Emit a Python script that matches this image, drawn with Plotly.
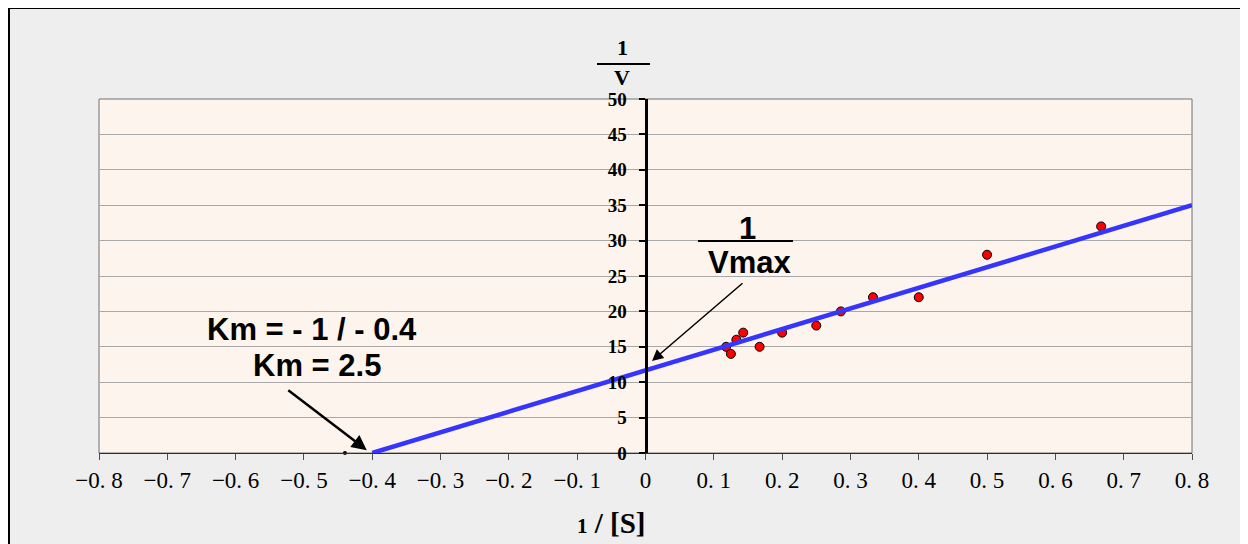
import plotly.graph_objects as go

# ---- data ----
inv_s = [0.118, 0.125, 0.133, 0.143, 0.167, 0.2, 0.25, 0.286, 0.333, 0.4, 0.5, 0.667]
inv_v = [15, 14, 16, 17, 15, 17, 18, 20, 22, 22, 28, 32]
fit_x = [-0.4, 0.8]
fit_y = [0, 35]
dot_x = [-0.44]
dot_y = [0]
x_ticks = [-0.8, -0.7, -0.6, -0.5, -0.4, -0.3, -0.2, -0.1, 0, 0.1, 0.2, 0.3, 0.4, 0.5, 0.6, 0.7, 0.8]
x_labels = ["−0. 8", "−0. 7", "−0. 6", "−0. 5", "−0. 4", "−0. 3", "−0. 2", "−0. 1", "0",
            "0. 1", "0. 2", "0. 3", "0. 4", "0. 5", "0. 6", "0. 7", "0. 8"]
y_ticks = [0, 5, 10, 15, 20, 25, 30, 35, 40, 45, 50]

# ---- layout helpers (page pixel -> paper); the page body adds an 8px offset ----
OFF = 8
W, H = 1248 - OFF, 544 - OFF
PL, PR, PT, PB = 99 - OFF, 1192 - OFF, 99 - OFF, 453 - OFF
def px(xp):
    return (xp - OFF - PL) / (PR - PL)
def py(yp):
    return (PB - (yp - OFF)) / (PB - PT)

fig = go.Figure()
fig.add_trace(go.Scatter(x=inv_s, y=inv_v, mode="markers",
                         marker=dict(color="#ff0000", size=9, line=dict(color="black", width=1)),
                         showlegend=False))
fig.add_trace(go.Scatter(x=fit_x, y=fit_y, mode="lines",
                         line=dict(color="#3535ff", width=4.5), showlegend=False))
fig.add_trace(go.Scatter(x=dot_x, y=dot_y, mode="markers",
                         marker=dict(color="black", size=4), showlegend=False, cliponaxis=False))

fig.update_layout(
    width=W, height=H,
    margin=dict(l=PL, r=W - PR, t=PT, b=H - PB),
    paper_bgcolor="#eeeeee",
    plot_bgcolor="#fdf5ed",
    xaxis=dict(range=[-0.8, 0.8], tickvals=x_ticks, ticktext=x_labels,
               showgrid=False, zeroline=False, showline=True, linecolor="#303030", linewidth=1,
               ticks="outside", ticklen=6, tickcolor="#505050", tickwidth=1,
               tickfont=dict(family="Liberation Serif", size=23, color="black")),
    yaxis=dict(range=[0, 50], tickvals=y_ticks, anchor="free", position=0.5,
               showgrid=True, gridcolor="#a8a8a8", gridwidth=1, zeroline=False,
               showline=True, linecolor="black", linewidth=3,
               ticks="outside", ticklen=6, tickcolor="black", tickwidth=2,
               ticklabelstandoff=8,
               tickfont=dict(family="Liberation Serif", size=19, color="black", weight="bold")),
)

shapes = [
    # frame lines
    dict(type="line", xref="paper", yref="paper", x0=px(8.5), x1=px(1300), y0=py(8), y1=py(8),
         line=dict(color="black", width=2)),
    dict(type="line", xref="paper", yref="paper", x0=px(9), x1=px(9), y0=py(8), y1=py(600),
         line=dict(color="black", width=2)),
    # plot border
    dict(type="rect", xref="paper", yref="paper", x0=0, x1=1, y0=0, y1=1,
         line=dict(color="#707070", width=1), layer="below"),
    # fraction bars
    dict(type="line", xref="paper", yref="paper", x0=px(597), x1=px(650), y0=py(64), y1=py(64),
         line=dict(color="black", width=2)),
    dict(type="line", xref="paper", yref="paper", x0=px(698), x1=px(793), y0=py(241), y1=py(241),
         line=dict(color="black", width=2)),
]
fig.update_layout(shapes=shapes)

serif_b = dict(family="Liberation Serif", size=22, color="black", weight="bold")
sans_b = dict(family="Liberation Sans", size=31, color="black", weight="bold")
ann = [
    dict(text="1", x=px(622), y=py(48), font=serif_b),
    dict(text="V", x=px(622), y=py(77), font=serif_b),
    dict(text="<span style='font-size:21px'>1</span> / [S]", x=px(611), y=py(523),
         font=dict(family="Liberation Serif", size=29, color="black", weight="bold")),
    dict(text="Km = - 1 / - 0.4", x=px(312), y=py(329), font=sans_b),
    dict(text="Km = 2.5", x=px(317), y=py(365), font=sans_b),
    dict(text="1", x=px(747), y=py(228), font=sans_b),
    dict(text="Vmax", x=px(749), y=py(263), font=sans_b),
]
for a in ann:
    fig.add_annotation(xref="paper", yref="paper", showarrow=False, borderpad=0,
                       xanchor="center", yanchor="middle", **a)

fig.add_annotation(x=-0.408, y=0.4, xref="x", yref="y", text="", showarrow=True,
                   ax=-80, ay=-61, arrowhead=2, arrowsize=1.2, arrowwidth=2.5, arrowcolor="black")
fig.add_annotation(x=0.0095, y=13.0, xref="x", yref="y", text="", showarrow=True,
                   ax=92, ay=-79, arrowhead=2, arrowsize=1.5, arrowwidth=1.5, arrowcolor="black")

fig.write_html("out.html")
